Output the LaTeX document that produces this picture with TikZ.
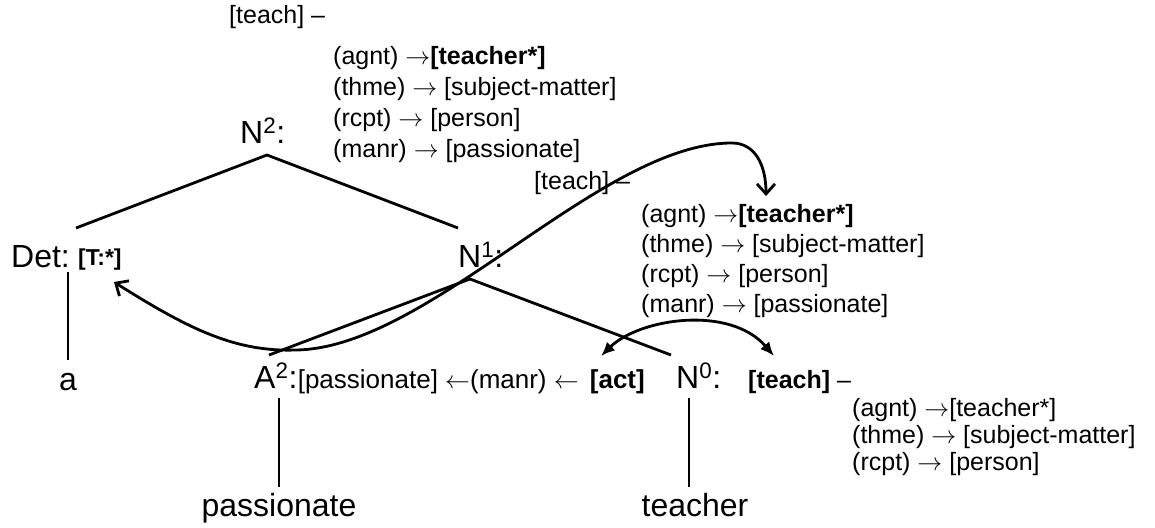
\documentclass[tikz,border=0pt]{standalone}
\usepackage{fontspec}
\setmainfont{Liberation Sans}
\usetikzlibrary{arrows.meta}
\newcommand{\ra}{\ensuremath{\rightarrow}}
\newcommand{\la}{\ensuremath{\leftarrow}}
\begin{document}
\begin{tikzpicture}[x=1pt,y=-1pt,
  big/.style={font=\fontsize{32}{36}\selectfont, inner sep=0pt, anchor=base west},
  sm/.style={font=\fontsize{25}{29}\selectfont, inner sep=0pt, anchor=base west},
  row/.style={font=\fontsize{26}{29}\selectfont, inner sep=0pt, anchor=base west},
  edge/.style={line width=2.8pt},
  barb/.style={line width=2.8pt, {Straight Barb[length=10pt,width=18pt]}-{Straight Barb[length=10pt,width=18pt]}},
  tri/.style={line width=2.8pt, {Latex[length=14pt,width=12pt]}-{Latex[length=14pt,width=12pt]}}]
\useasboundingbox (0,0) rectangle (1155,527);

% top block
\node[sm] (t1) at (229,24) {[teach] –};
\node[sm] (t1a) at (333,64) {(agnt) \ra\textbf{[teacher*]}};
\node[sm] (t1b) at (333,95) {(thme) \ra{} [subject-matter]};
\node[sm] (t1c) at (333,126) {(rcpt) \ra{} [person]};
\node[sm] (t1d) at (333,157) {(manr) \ra{} [passionate]};

% tree labels
\node[big] (n2) at (240,143) {N\textsuperscript{2}:};
\node[big] (det) at (11,267) {Det:};
\node[font=\bfseries\fontsize{23}{25}\selectfont, inner sep=0pt, anchor=base west] (top) at (78,265) {[T:*]};
\node[big] (n1) at (458,267) {N\textsuperscript{1}:};
\node[big, anchor=base] (a) at (68,390) {a};
\node[big] (a2) at (254,388) {A\textsuperscript{2}:};
\node[row] (pass) at (a2.base east) {[passionate] \la(manr) \la};
\node[row, font=\bfseries\fontsize{26}{29}\selectfont, anchor=base east] (act) at (645,388) {[act]};
\node[big] (n0) at (676,388) {N\textsuperscript{0}:};
\node[sm] (teach0) at (748,388) {\textbf{[teach]} –};
\node[big, anchor=base] (wpass) at (279,516) {passionate};
\node[big, anchor=base] (wteach) at (695,516) {teacher};

% middle block
\node[sm] (t2) at (534,189) {[teach] –};
\node[sm] (t2a) at (641,222) {(agnt) \ra\textbf{[teacher*]}};
\node[sm] (t2b) at (641,252) {(thme) \ra{} [subject-matter]};
\node[sm] (t2c) at (641,282) {(rcpt) \ra{} [person]};
\node[sm] (t2d) at (641,312) {(manr) \ra{} [passionate]};

% bottom block
\node[sm] (t3a) at (852,416) {(agnt) \ra[teacher*]};
\node[sm] (t3b) at (852,443) {(thme) \ra{} [subject-matter]};
\node[sm] (t3c) at (852,470) {(rcpt) \ra{} [person]};

% coordinates
\coordinate (apex) at (267,155);
\coordinate (detTop) at (76,228);
\coordinate (n1Top) at (458,228);
\coordinate (n1Bot) at (470,279);
\coordinate (a2Top) at (269,355);
\coordinate (n0Top) at (671,355);
\coordinate (detBot) at (68,272);
\coordinate (aTop) at (68,360);
\coordinate (a2Bot) at (279,398);
\coordinate (pTop) at (279,487);
\coordinate (n0Bot) at (689,398);
\coordinate (tTop) at (689,487);

\draw[edge] (detTop) -- (apex) -- (n1Top);
\draw[edge] (a2Top) -- (n1Bot) -- (n0Top);
\draw[edge] (detBot) -- (aTop);
\draw[edge] (a2Bot) -- (pTop);
\draw[edge] (n0Bot) -- (tTop);

% curves
\coordinate (c1) at (114,282);
\coordinate (c2) at (296,350);
\coordinate (c3) at (732,143);
\coordinate (c4) at (766,196);
\draw[barb] (c1) .. controls (190,330) and (236,352) .. (c2) .. controls (430,348) and (600,143) .. (c3) .. controls (755,143) and (766,165) .. (c4);

\coordinate (s1) at (601,356);
\coordinate (s2) at (774,356);
\draw[tri] (s1) .. controls (640,318) and (730,305) .. (s2);
\end{tikzpicture}
\end{document}
